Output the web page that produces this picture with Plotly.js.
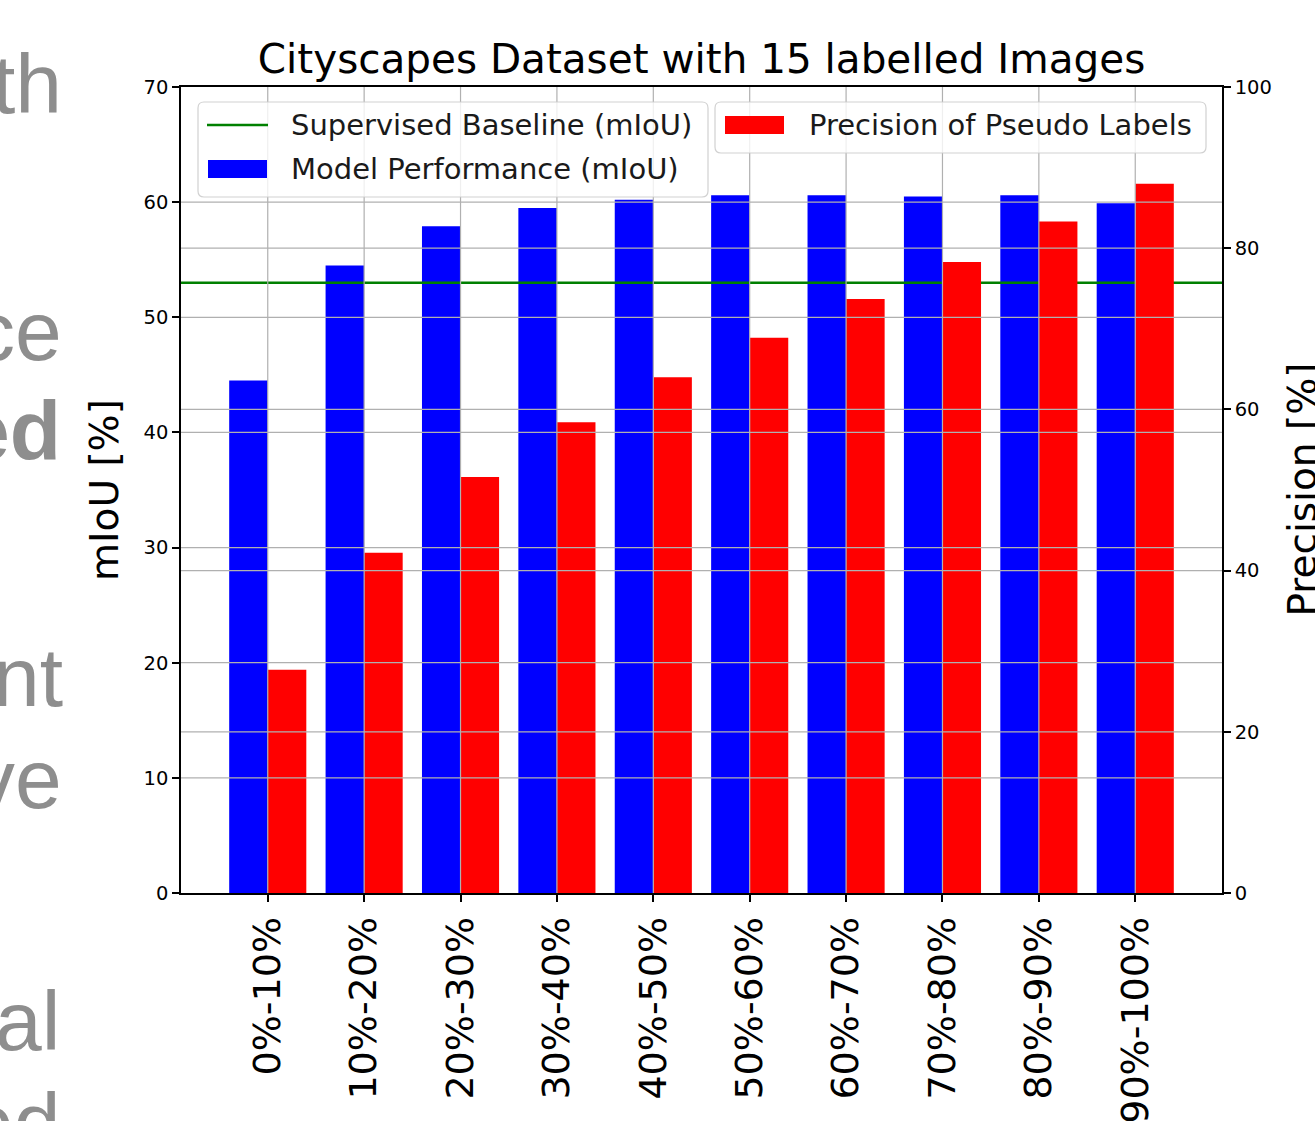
<!DOCTYPE html>
<html>
<head>
<meta charset="utf-8">
<script src="https://cdn.plot.ly/plotly-3.0.1.min.js"></script>
<style>
  html, body { margin: 0; padding: 0; background: #ffffff; }
  #chart { width: 1315px; height: 1121px; }
</style>
</head>
<body>
<div id="chart"></div>
<script>
// ---- data ----
const categories = ["0%-10%", "10%-20%", "20%-30%", "30%-40%", "40%-50%",
                    "50%-60%", "60%-70%", "70%-80%", "80%-90%", "90%-100%"];
const modelPerformance = [44.5, 54.5, 57.9, 59.5, 60.2, 60.6, 60.6, 60.5, 60.6, 59.9];
const pseudoPrecision  = [27.7, 42.2, 51.6, 58.4, 64.0, 68.9, 73.7, 78.3, 83.3, 88.0];
const supervisedBaseline = 53.0;
const seriesNames = ["Supervised Baseline (mIoU)", "Model Performance (mIoU)", "Precision of Pseudo Labels"];
const leftTicks  = [0, 10, 20, 30, 40, 50, 60, 70];
const rightTicks = [0, 20, 40, 60, 80, 100];
const titleText = "Cityscapes Dataset with 15 labelled Images";
const leftTitle = "mIoU [%]";
const rightTitle = "Precision [%]";
// text fragments of the surrounding slide, cut by the left edge
const sideFragments = [
  {text: "th", bold: false},
  {text: "ce", bold: false},
  {text: "ed", bold: true},
  {text: "nt", bold: false},
  {text: "ve", bold: false},
  {text: "al", bold: false},
  {text: "ed", bold: false}
];

// ---- geometry / style ----
const W = 1315, H = 1121;
const M = {l: 181, r: 93, t: 87, b: 228};
const PW = W - M.l - M.r, PH = H - M.t - M.b;
const px2x = p => (p - M.l) / PW;
const py2y = p => (H - M.b - p) / PH;
const xRange = [-0.9, 9.9];
const FONT = "DejaVu Sans, sans-serif";
const GRID = "#b0b0b0";
const catIdx = categories.map((_, i) => i);

const traces = [
  {
    type: "bar", x: catIdx, y: modelPerformance, name: seriesNames[1],
    xaxis: "x", yaxis: "y", width: 0.4, offset: -0.4,
    marker: {color: "#0000ff", line: {width: 0}}, hoverinfo: "y"
  },
  {
    type: "scatter", mode: "lines", x: xRange, y: xRange.map(() => supervisedBaseline),
    name: seriesNames[0], xaxis: "x", yaxis: "y",
    line: {color: "#008000", width: 2.6}, hoverinfo: "y"
  },
  {
    type: "bar", x: catIdx, y: pseudoPrecision, name: seriesNames[2],
    xaxis: "x", yaxis: "y2", width: 0.4, offset: 0,
    marker: {color: "#ff0000", line: {width: 0}}, hoverinfo: "y"
  }
];

const shapes = [];
// grid lines drawn above the bars (as in the matplotlib original)
catIdx.forEach(i => shapes.push({type: "line", xref: "x", yref: "paper", x0: i, x1: i, y0: 0, y1: 1,
  line: {color: GRID, width: 1.2}, layer: "above"}));
leftTicks.slice(1, -1).forEach(v => shapes.push({type: "line", xref: "paper", yref: "y", x0: 0, x1: 1, y0: v, y1: v,
  line: {color: GRID, width: 1.2}, layer: "above"}));
rightTicks.slice(1, -1).forEach(v => shapes.push({type: "line", xref: "paper", yref: "y2", x0: 0, x1: 1, y0: v, y1: v,
  line: {color: GRID, width: 1.2}, layer: "above"}));

// legend boxes (rounded, translucent white)
function roundRect(x0, y0, x1, y1, r) {
  const X = px2x, Y = py2y;
  return `M ${X(x0 + r)} ${Y(y0)} L ${X(x1 - r)} ${Y(y0)} Q ${X(x1)} ${Y(y0)} ${X(x1)} ${Y(y0 + r)} ` +
         `L ${X(x1)} ${Y(y1 - r)} Q ${X(x1)} ${Y(y1)} ${X(x1 - r)} ${Y(y1)} L ${X(x0 + r)} ${Y(y1)} ` +
         `Q ${X(x0)} ${Y(y1)} ${X(x0)} ${Y(y1 - r)} L ${X(x0)} ${Y(y0 + r)} Q ${X(x0)} ${Y(y0)} ${X(x0 + r)} ${Y(y0)} Z`;
}
const legendBoxes = [[198, 102, 708, 197], [715, 102, 1206, 153]];
legendBoxes.forEach(b => shapes.push({type: "path", xref: "paper", yref: "paper",
  path: roundRect(b[0], b[1], b[2], b[3], 6),
  fillcolor: "rgba(255,255,255,0.8)", line: {color: "rgba(204,204,204,0.9)", width: 1.2}, layer: "above"}));
// legend handles
shapes.push({type: "line", xref: "paper", yref: "paper", x0: px2x(207), x1: px2x(268), y0: py2y(125), y1: py2y(125),
  line: {color: "#008000", width: 2.6}, layer: "above"});
shapes.push({type: "rect", xref: "paper", yref: "paper", x0: px2x(208), x1: px2x(267), y0: py2y(178), y1: py2y(160),
  fillcolor: "#0000ff", line: {width: 0}, layer: "above"});
shapes.push({type: "rect", xref: "paper", yref: "paper", x0: px2x(725), x1: px2x(784), y0: py2y(134), y1: py2y(116),
  fillcolor: "#ff0000", line: {width: 0}, layer: "above"});

const annotations = [];
const legendText = [[seriesNames[0], 289, 125], [seriesNames[1], 289, 169], [seriesNames[2], 807, 125]];
legendText.forEach(t => annotations.push({xref: "paper", yref: "paper", x: px2x(t[1]), y: py2y(t[2]),
  xanchor: "left", yanchor: "middle", text: t[0], showarrow: false,
  font: {family: FONT, size: 29, color: "#1a1a1a"}}));

// right axis title, partly cut by the right edge as in the reference
annotations.push({xref: "paper", yref: "paper", x: px2x(1277), y: py2y(490), xanchor: "left", yanchor: "middle",
  text: rightTitle, textangle: -90, showarrow: false, font: {family: FONT, size: 39, color: "#000000"}});

// side fragments (slide text cut off at the left edge)
const fragPos = [[64, 84], [64, 331], [63, 431], [65, 677], [64, 779], [62, 1021], [62, 1123]];
sideFragments.forEach((f, i) => annotations.push({xref: "paper", yref: "paper",
  x: px2x(fragPos[i][0]), y: py2y(fragPos[i][1]), xanchor: "right", yanchor: "middle",
  text: f.bold ? "<b>" + f.text + "</b>" : f.text, showarrow: false,
  font: {family: "Liberation Sans, Arial, sans-serif", size: 84, color: "#8e8e8e"}}));

const layout = {
  width: W, height: H,
  margin: M,
  paper_bgcolor: "#ffffff", plot_bgcolor: "#ffffff",
  showlegend: false,
  font: {family: FONT, color: "#000000"},
  title: {text: titleText, font: {family: FONT, size: 40.5, color: "#000000"},
          x: 0.5, xref: "paper", xanchor: "center", y: 1 - 59 / H, yref: "container", yanchor: "middle"},
  xaxis: {
    range: xRange, tickmode: "array", tickvals: catIdx, ticktext: categories, tickangle: -90,
    tickfont: {family: FONT, size: 38, color: "#000000"},
    showgrid: false, zeroline: false,
    showline: true, linecolor: "#000000", linewidth: 1.5, mirror: true,
    ticks: "outside", ticklen: 7, tickwidth: 1.5, tickcolor: "#000000"
  },
  yaxis: {
    range: [0, 70], tickmode: "array", tickvals: leftTicks,
    tickfont: {family: FONT, size: 19.5, color: "#000000"},
    showgrid: false, zeroline: false,
    showline: true, linecolor: "#000000", linewidth: 1.5,
    ticks: "outside", ticklen: 7, tickwidth: 1.5, tickcolor: "#000000",
    title: {text: leftTitle, font: {family: FONT, size: 39, color: "#000000"}, standoff: 13}
  },
  yaxis2: {
    range: [0, 100], overlaying: "y", side: "right", tickmode: "array", tickvals: rightTicks,
    tickfont: {family: FONT, size: 19.5, color: "#000000"},
    showgrid: false, zeroline: false,
    showline: true, linecolor: "#000000", linewidth: 1.5,
    ticks: "outside", ticklen: 7, tickwidth: 1.5, tickcolor: "#000000"
  },
  bargap: 0.2,
  shapes: shapes,
  annotations: annotations
};

Plotly.newPlot("chart", traces, layout, {displayModeBar: false, staticPlot: false});
</script>
</body>
</html>
